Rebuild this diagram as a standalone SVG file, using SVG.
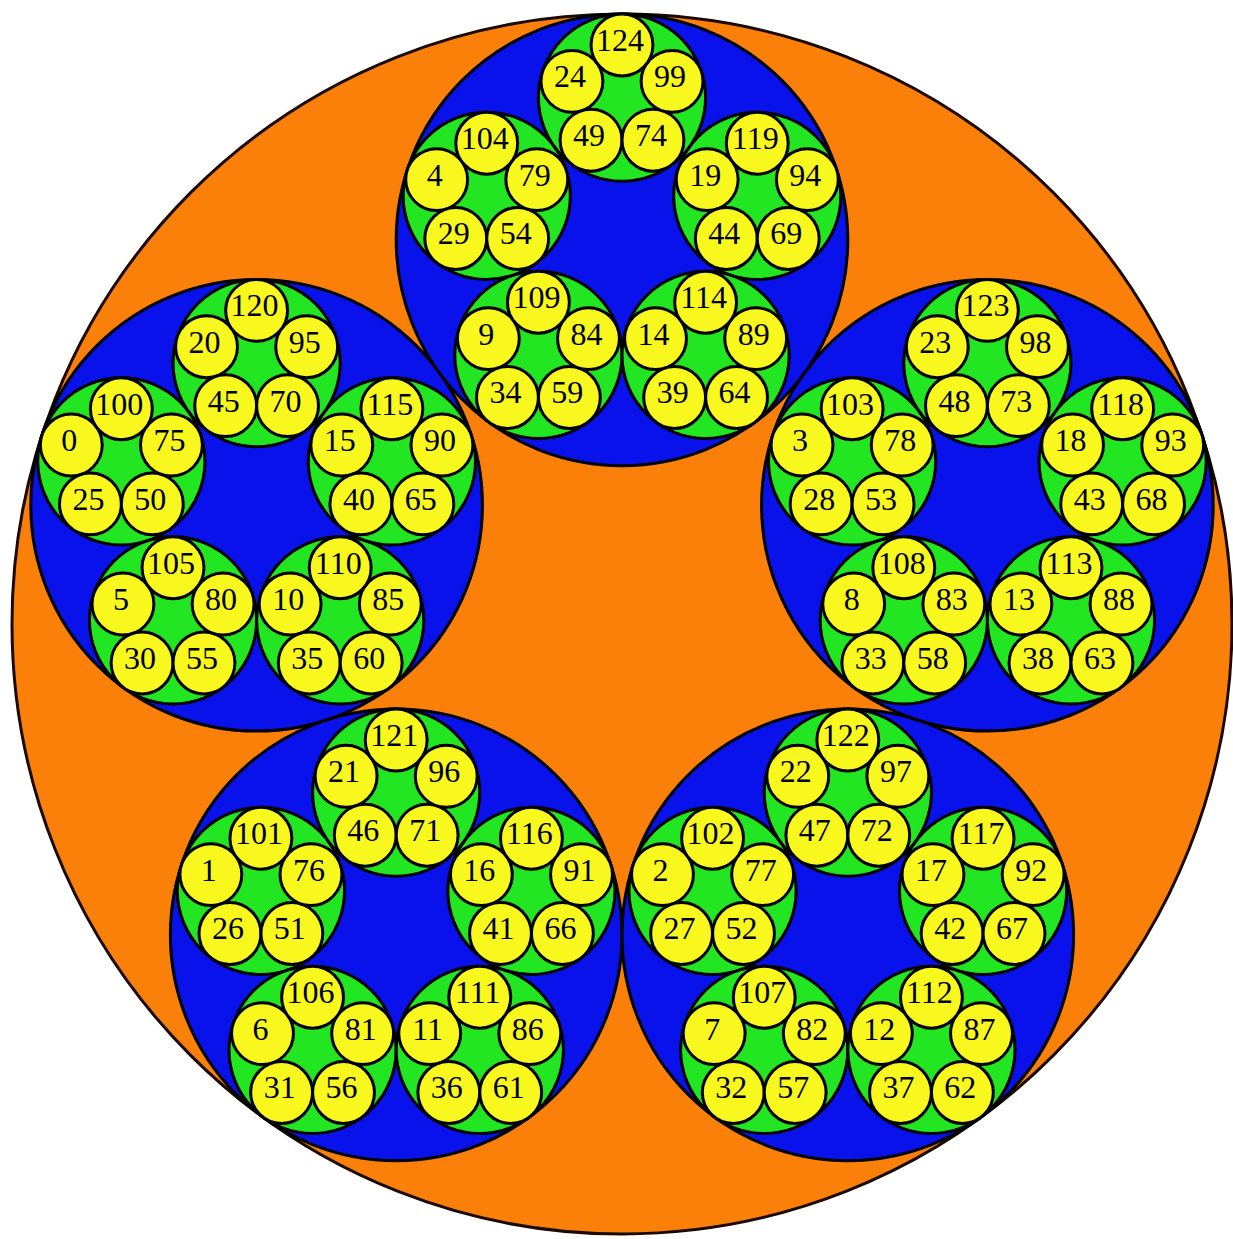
<svg xmlns="http://www.w3.org/2000/svg" width="1233" height="1239" viewBox="0 0 1233 1239">
<style>
.o{fill:#fb800a;stroke:#1a0a00;stroke-width:3}
.b{fill:#0a12ec;stroke:#000;stroke-width:3}
.g{fill:#22e622;stroke:#000;stroke-width:3}
.y{fill:#f8f81e;stroke:#000;stroke-width:3}
text{font-family:"Liberation Serif","Times New Roman",serif;font-size:32px;text-anchor:middle;fill:#000}
</style>
<rect width="1233" height="1239" fill="#fff"/>
<g id="outer"><circle class="o" cx="622" cy="624" r="610"/></g>

<g id="b0" transform="translate(256.62,505.28)"><circle class="b" r="225.82"/>
<g id="b0g0" transform="translate(-135.26,-43.95)"><circle class="g" r="83.6"/>
<g id="n0" transform="translate(-50.07,-16.27)"><circle class="y" r="30.95"/><text x="-2" y="6">0</text></g>
<g id="n25" transform="translate(-30.95,42.59)"><circle class="y" r="30.95"/><text x="-2" y="6">25</text></g>
<g id="n50" transform="translate(30.95,42.59)"><circle class="y" r="30.95"/><text x="-2" y="6">50</text></g>
<g id="n75" transform="translate(50.07,-16.27)"><circle class="y" r="30.95"/><text x="-2" y="6">75</text></g>
<g id="n100" transform="translate(0,-52.65)"><circle class="y" r="30.95"/><text x="-2" y="6">100</text></g>
</g>
<g id="b0g1" transform="translate(-83.6,115.06)"><circle class="g" r="83.6"/>
<g id="n5" transform="translate(-50.07,-16.27)"><circle class="y" r="30.95"/><text x="-2" y="6">5</text></g>
<g id="n30" transform="translate(-30.95,42.59)"><circle class="y" r="30.95"/><text x="-2" y="6">30</text></g>
<g id="n55" transform="translate(30.95,42.59)"><circle class="y" r="30.95"/><text x="-2" y="6">55</text></g>
<g id="n80" transform="translate(50.07,-16.27)"><circle class="y" r="30.95"/><text x="-2" y="6">80</text></g>
<g id="n105" transform="translate(0,-52.65)"><circle class="y" r="30.95"/><text x="-2" y="6">105</text></g>
</g>
<g id="b0g2" transform="translate(83.6,115.06)"><circle class="g" r="83.6"/>
<g id="n10" transform="translate(-50.07,-16.27)"><circle class="y" r="30.95"/><text x="-2" y="6">10</text></g>
<g id="n35" transform="translate(-30.95,42.59)"><circle class="y" r="30.95"/><text x="-2" y="6">35</text></g>
<g id="n60" transform="translate(30.95,42.59)"><circle class="y" r="30.95"/><text x="-2" y="6">60</text></g>
<g id="n85" transform="translate(50.07,-16.27)"><circle class="y" r="30.95"/><text x="-2" y="6">85</text></g>
<g id="n110" transform="translate(0,-52.65)"><circle class="y" r="30.95"/><text x="-2" y="6">110</text></g>
</g>
<g id="b0g3" transform="translate(135.26,-43.95)"><circle class="g" r="83.6"/>
<g id="n15" transform="translate(-50.07,-16.27)"><circle class="y" r="30.95"/><text x="-2" y="6">15</text></g>
<g id="n40" transform="translate(-30.95,42.59)"><circle class="y" r="30.95"/><text x="-2" y="6">40</text></g>
<g id="n65" transform="translate(30.95,42.59)"><circle class="y" r="30.95"/><text x="-2" y="6">65</text></g>
<g id="n90" transform="translate(50.07,-16.27)"><circle class="y" r="30.95"/><text x="-2" y="6">90</text></g>
<g id="n115" transform="translate(0,-52.65)"><circle class="y" r="30.95"/><text x="-2" y="6">115</text></g>
</g>
<g id="b0g4" transform="translate(0,-142.22)"><circle class="g" r="83.6"/>
<g id="n20" transform="translate(-50.07,-16.27)"><circle class="y" r="30.95"/><text x="-2" y="6">20</text></g>
<g id="n45" transform="translate(-30.95,42.59)"><circle class="y" r="30.95"/><text x="-2" y="6">45</text></g>
<g id="n70" transform="translate(30.95,42.59)"><circle class="y" r="30.95"/><text x="-2" y="6">70</text></g>
<g id="n95" transform="translate(50.07,-16.27)"><circle class="y" r="30.95"/><text x="-2" y="6">95</text></g>
<g id="n120" transform="translate(0,-52.65)"><circle class="y" r="30.95"/><text x="-2" y="6">120</text></g>
</g>
</g>

<g id="b1" transform="translate(396.18,934.81)"><circle class="b" r="225.82"/>
<g id="b1g0" transform="translate(-135.26,-43.95)"><circle class="g" r="83.6"/>
<g id="n1" transform="translate(-50.07,-16.27)"><circle class="y" r="30.95"/><text x="-2" y="6">1</text></g>
<g id="n26" transform="translate(-30.95,42.59)"><circle class="y" r="30.95"/><text x="-2" y="6">26</text></g>
<g id="n51" transform="translate(30.95,42.59)"><circle class="y" r="30.95"/><text x="-2" y="6">51</text></g>
<g id="n76" transform="translate(50.07,-16.27)"><circle class="y" r="30.95"/><text x="-2" y="6">76</text></g>
<g id="n101" transform="translate(0,-52.65)"><circle class="y" r="30.95"/><text x="-2" y="6">101</text></g>
</g>
<g id="b1g1" transform="translate(-83.6,115.06)"><circle class="g" r="83.6"/>
<g id="n6" transform="translate(-50.07,-16.27)"><circle class="y" r="30.95"/><text x="-2" y="6">6</text></g>
<g id="n31" transform="translate(-30.95,42.59)"><circle class="y" r="30.95"/><text x="-2" y="6">31</text></g>
<g id="n56" transform="translate(30.95,42.59)"><circle class="y" r="30.95"/><text x="-2" y="6">56</text></g>
<g id="n81" transform="translate(50.07,-16.27)"><circle class="y" r="30.95"/><text x="-2" y="6">81</text></g>
<g id="n106" transform="translate(0,-52.65)"><circle class="y" r="30.95"/><text x="-2" y="6">106</text></g>
</g>
<g id="b1g2" transform="translate(83.6,115.06)"><circle class="g" r="83.6"/>
<g id="n11" transform="translate(-50.07,-16.27)"><circle class="y" r="30.95"/><text x="-2" y="6">11</text></g>
<g id="n36" transform="translate(-30.95,42.59)"><circle class="y" r="30.95"/><text x="-2" y="6">36</text></g>
<g id="n61" transform="translate(30.95,42.59)"><circle class="y" r="30.95"/><text x="-2" y="6">61</text></g>
<g id="n86" transform="translate(50.07,-16.27)"><circle class="y" r="30.95"/><text x="-2" y="6">86</text></g>
<g id="n111" transform="translate(0,-52.65)"><circle class="y" r="30.95"/><text x="-2" y="6">111</text></g>
</g>
<g id="b1g3" transform="translate(135.26,-43.95)"><circle class="g" r="83.6"/>
<g id="n16" transform="translate(-50.07,-16.27)"><circle class="y" r="30.95"/><text x="-2" y="6">16</text></g>
<g id="n41" transform="translate(-30.95,42.59)"><circle class="y" r="30.95"/><text x="-2" y="6">41</text></g>
<g id="n66" transform="translate(30.95,42.59)"><circle class="y" r="30.95"/><text x="-2" y="6">66</text></g>
<g id="n91" transform="translate(50.07,-16.27)"><circle class="y" r="30.95"/><text x="-2" y="6">91</text></g>
<g id="n116" transform="translate(0,-52.65)"><circle class="y" r="30.95"/><text x="-2" y="6">116</text></g>
</g>
<g id="b1g4" transform="translate(0,-142.22)"><circle class="g" r="83.6"/>
<g id="n21" transform="translate(-50.07,-16.27)"><circle class="y" r="30.95"/><text x="-2" y="6">21</text></g>
<g id="n46" transform="translate(-30.95,42.59)"><circle class="y" r="30.95"/><text x="-2" y="6">46</text></g>
<g id="n71" transform="translate(30.95,42.59)"><circle class="y" r="30.95"/><text x="-2" y="6">71</text></g>
<g id="n96" transform="translate(50.07,-16.27)"><circle class="y" r="30.95"/><text x="-2" y="6">96</text></g>
<g id="n121" transform="translate(0,-52.65)"><circle class="y" r="30.95"/><text x="-2" y="6">121</text></g>
</g>
</g>

<g id="b2" transform="translate(847.82,934.81)"><circle class="b" r="225.82"/>
<g id="b2g0" transform="translate(-135.26,-43.95)"><circle class="g" r="83.6"/>
<g id="n2" transform="translate(-50.07,-16.27)"><circle class="y" r="30.95"/><text x="-2" y="6">2</text></g>
<g id="n27" transform="translate(-30.95,42.59)"><circle class="y" r="30.95"/><text x="-2" y="6">27</text></g>
<g id="n52" transform="translate(30.95,42.59)"><circle class="y" r="30.95"/><text x="-2" y="6">52</text></g>
<g id="n77" transform="translate(50.07,-16.27)"><circle class="y" r="30.95"/><text x="-2" y="6">77</text></g>
<g id="n102" transform="translate(0,-52.65)"><circle class="y" r="30.95"/><text x="-2" y="6">102</text></g>
</g>
<g id="b2g1" transform="translate(-83.6,115.06)"><circle class="g" r="83.6"/>
<g id="n7" transform="translate(-50.07,-16.27)"><circle class="y" r="30.95"/><text x="-2" y="6">7</text></g>
<g id="n32" transform="translate(-30.95,42.59)"><circle class="y" r="30.95"/><text x="-2" y="6">32</text></g>
<g id="n57" transform="translate(30.95,42.59)"><circle class="y" r="30.95"/><text x="-2" y="6">57</text></g>
<g id="n82" transform="translate(50.07,-16.27)"><circle class="y" r="30.95"/><text x="-2" y="6">82</text></g>
<g id="n107" transform="translate(0,-52.65)"><circle class="y" r="30.95"/><text x="-2" y="6">107</text></g>
</g>
<g id="b2g2" transform="translate(83.6,115.06)"><circle class="g" r="83.6"/>
<g id="n12" transform="translate(-50.07,-16.27)"><circle class="y" r="30.95"/><text x="-2" y="6">12</text></g>
<g id="n37" transform="translate(-30.95,42.59)"><circle class="y" r="30.95"/><text x="-2" y="6">37</text></g>
<g id="n62" transform="translate(30.95,42.59)"><circle class="y" r="30.95"/><text x="-2" y="6">62</text></g>
<g id="n87" transform="translate(50.07,-16.27)"><circle class="y" r="30.95"/><text x="-2" y="6">87</text></g>
<g id="n112" transform="translate(0,-52.65)"><circle class="y" r="30.95"/><text x="-2" y="6">112</text></g>
</g>
<g id="b2g3" transform="translate(135.26,-43.95)"><circle class="g" r="83.6"/>
<g id="n17" transform="translate(-50.07,-16.27)"><circle class="y" r="30.95"/><text x="-2" y="6">17</text></g>
<g id="n42" transform="translate(-30.95,42.59)"><circle class="y" r="30.95"/><text x="-2" y="6">42</text></g>
<g id="n67" transform="translate(30.95,42.59)"><circle class="y" r="30.95"/><text x="-2" y="6">67</text></g>
<g id="n92" transform="translate(50.07,-16.27)"><circle class="y" r="30.95"/><text x="-2" y="6">92</text></g>
<g id="n117" transform="translate(0,-52.65)"><circle class="y" r="30.95"/><text x="-2" y="6">117</text></g>
</g>
<g id="b2g4" transform="translate(0,-142.22)"><circle class="g" r="83.6"/>
<g id="n22" transform="translate(-50.07,-16.27)"><circle class="y" r="30.95"/><text x="-2" y="6">22</text></g>
<g id="n47" transform="translate(-30.95,42.59)"><circle class="y" r="30.95"/><text x="-2" y="6">47</text></g>
<g id="n72" transform="translate(30.95,42.59)"><circle class="y" r="30.95"/><text x="-2" y="6">72</text></g>
<g id="n97" transform="translate(50.07,-16.27)"><circle class="y" r="30.95"/><text x="-2" y="6">97</text></g>
<g id="n122" transform="translate(0,-52.65)"><circle class="y" r="30.95"/><text x="-2" y="6">122</text></g>
</g>
</g>

<g id="b3" transform="translate(987.38,505.28)"><circle class="b" r="225.82"/>
<g id="b3g0" transform="translate(-135.26,-43.95)"><circle class="g" r="83.6"/>
<g id="n3" transform="translate(-50.07,-16.27)"><circle class="y" r="30.95"/><text x="-2" y="6">3</text></g>
<g id="n28" transform="translate(-30.95,42.59)"><circle class="y" r="30.95"/><text x="-2" y="6">28</text></g>
<g id="n53" transform="translate(30.95,42.59)"><circle class="y" r="30.95"/><text x="-2" y="6">53</text></g>
<g id="n78" transform="translate(50.07,-16.27)"><circle class="y" r="30.95"/><text x="-2" y="6">78</text></g>
<g id="n103" transform="translate(0,-52.65)"><circle class="y" r="30.95"/><text x="-2" y="6">103</text></g>
</g>
<g id="b3g1" transform="translate(-83.6,115.06)"><circle class="g" r="83.6"/>
<g id="n8" transform="translate(-50.07,-16.27)"><circle class="y" r="30.95"/><text x="-2" y="6">8</text></g>
<g id="n33" transform="translate(-30.95,42.59)"><circle class="y" r="30.95"/><text x="-2" y="6">33</text></g>
<g id="n58" transform="translate(30.95,42.59)"><circle class="y" r="30.95"/><text x="-2" y="6">58</text></g>
<g id="n83" transform="translate(50.07,-16.27)"><circle class="y" r="30.95"/><text x="-2" y="6">83</text></g>
<g id="n108" transform="translate(0,-52.65)"><circle class="y" r="30.95"/><text x="-2" y="6">108</text></g>
</g>
<g id="b3g2" transform="translate(83.6,115.06)"><circle class="g" r="83.6"/>
<g id="n13" transform="translate(-50.07,-16.27)"><circle class="y" r="30.95"/><text x="-2" y="6">13</text></g>
<g id="n38" transform="translate(-30.95,42.59)"><circle class="y" r="30.95"/><text x="-2" y="6">38</text></g>
<g id="n63" transform="translate(30.95,42.59)"><circle class="y" r="30.95"/><text x="-2" y="6">63</text></g>
<g id="n88" transform="translate(50.07,-16.27)"><circle class="y" r="30.95"/><text x="-2" y="6">88</text></g>
<g id="n113" transform="translate(0,-52.65)"><circle class="y" r="30.95"/><text x="-2" y="6">113</text></g>
</g>
<g id="b3g3" transform="translate(135.26,-43.95)"><circle class="g" r="83.6"/>
<g id="n18" transform="translate(-50.07,-16.27)"><circle class="y" r="30.95"/><text x="-2" y="6">18</text></g>
<g id="n43" transform="translate(-30.95,42.59)"><circle class="y" r="30.95"/><text x="-2" y="6">43</text></g>
<g id="n68" transform="translate(30.95,42.59)"><circle class="y" r="30.95"/><text x="-2" y="6">68</text></g>
<g id="n93" transform="translate(50.07,-16.27)"><circle class="y" r="30.95"/><text x="-2" y="6">93</text></g>
<g id="n118" transform="translate(0,-52.65)"><circle class="y" r="30.95"/><text x="-2" y="6">118</text></g>
</g>
<g id="b3g4" transform="translate(0,-142.22)"><circle class="g" r="83.6"/>
<g id="n23" transform="translate(-50.07,-16.27)"><circle class="y" r="30.95"/><text x="-2" y="6">23</text></g>
<g id="n48" transform="translate(-30.95,42.59)"><circle class="y" r="30.95"/><text x="-2" y="6">48</text></g>
<g id="n73" transform="translate(30.95,42.59)"><circle class="y" r="30.95"/><text x="-2" y="6">73</text></g>
<g id="n98" transform="translate(50.07,-16.27)"><circle class="y" r="30.95"/><text x="-2" y="6">98</text></g>
<g id="n123" transform="translate(0,-52.65)"><circle class="y" r="30.95"/><text x="-2" y="6">123</text></g>
</g>
</g>

<g id="b4" transform="translate(622,239.82)"><circle class="b" r="225.82"/>
<g id="b4g0" transform="translate(-135.26,-43.95)"><circle class="g" r="83.6"/>
<g id="n4" transform="translate(-50.07,-16.27)"><circle class="y" r="30.95"/><text x="-2" y="6">4</text></g>
<g id="n29" transform="translate(-30.95,42.59)"><circle class="y" r="30.95"/><text x="-2" y="6">29</text></g>
<g id="n54" transform="translate(30.95,42.59)"><circle class="y" r="30.95"/><text x="-2" y="6">54</text></g>
<g id="n79" transform="translate(50.07,-16.27)"><circle class="y" r="30.95"/><text x="-2" y="6">79</text></g>
<g id="n104" transform="translate(0,-52.65)"><circle class="y" r="30.95"/><text x="-2" y="6">104</text></g>
</g>
<g id="b4g1" transform="translate(-83.6,115.06)"><circle class="g" r="83.6"/>
<g id="n9" transform="translate(-50.07,-16.27)"><circle class="y" r="30.95"/><text x="-2" y="6">9</text></g>
<g id="n34" transform="translate(-30.95,42.59)"><circle class="y" r="30.95"/><text x="-2" y="6">34</text></g>
<g id="n59" transform="translate(30.95,42.59)"><circle class="y" r="30.95"/><text x="-2" y="6">59</text></g>
<g id="n84" transform="translate(50.07,-16.27)"><circle class="y" r="30.95"/><text x="-2" y="6">84</text></g>
<g id="n109" transform="translate(0,-52.65)"><circle class="y" r="30.95"/><text x="-2" y="6">109</text></g>
</g>
<g id="b4g2" transform="translate(83.6,115.06)"><circle class="g" r="83.6"/>
<g id="n14" transform="translate(-50.07,-16.27)"><circle class="y" r="30.95"/><text x="-2" y="6">14</text></g>
<g id="n39" transform="translate(-30.95,42.59)"><circle class="y" r="30.95"/><text x="-2" y="6">39</text></g>
<g id="n64" transform="translate(30.95,42.59)"><circle class="y" r="30.95"/><text x="-2" y="6">64</text></g>
<g id="n89" transform="translate(50.07,-16.27)"><circle class="y" r="30.95"/><text x="-2" y="6">89</text></g>
<g id="n114" transform="translate(0,-52.65)"><circle class="y" r="30.95"/><text x="-2" y="6">114</text></g>
</g>
<g id="b4g3" transform="translate(135.26,-43.95)"><circle class="g" r="83.6"/>
<g id="n19" transform="translate(-50.07,-16.27)"><circle class="y" r="30.95"/><text x="-2" y="6">19</text></g>
<g id="n44" transform="translate(-30.95,42.59)"><circle class="y" r="30.95"/><text x="-2" y="6">44</text></g>
<g id="n69" transform="translate(30.95,42.59)"><circle class="y" r="30.95"/><text x="-2" y="6">69</text></g>
<g id="n94" transform="translate(50.07,-16.27)"><circle class="y" r="30.95"/><text x="-2" y="6">94</text></g>
<g id="n119" transform="translate(0,-52.65)"><circle class="y" r="30.95"/><text x="-2" y="6">119</text></g>
</g>
<g id="b4g4" transform="translate(0,-142.22)"><circle class="g" r="83.6"/>
<g id="n24" transform="translate(-50.07,-16.27)"><circle class="y" r="30.95"/><text x="-2" y="6">24</text></g>
<g id="n49" transform="translate(-30.95,42.59)"><circle class="y" r="30.95"/><text x="-2" y="6">49</text></g>
<g id="n74" transform="translate(30.95,42.59)"><circle class="y" r="30.95"/><text x="-2" y="6">74</text></g>
<g id="n99" transform="translate(50.07,-16.27)"><circle class="y" r="30.95"/><text x="-2" y="6">99</text></g>
<g id="n124" transform="translate(0,-52.65)"><circle class="y" r="30.95"/><text x="-2" y="6">124</text></g>
</g>
</g>
</svg>
